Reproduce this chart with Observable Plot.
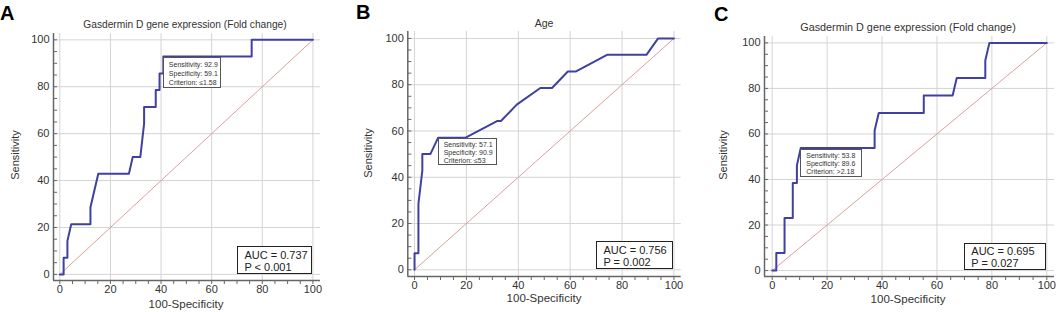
<!DOCTYPE html>
<html><head><meta charset="utf-8">
<script src="https://cdn.jsdelivr.net/npm/d3@7"></script>
<script src="https://cdn.jsdelivr.net/npm/@observablehq/plot@0.6"></script>
<style>
body{margin:0;background:#fff;}
#root{position:relative;width:1059px;height:312px;overflow:hidden;font-family:Arial,"Liberation Sans",sans-serif;color:#333;}
.abs{position:absolute;white-space:nowrap;}
.panel{position:absolute;top:0;}
.crit{position:absolute;background:#fff;border:1px solid #555;box-sizing:border-box;font-size:7px;color:#333;padding:2px 0 0 5px;white-space:nowrap;}
.auc{position:absolute;background:#fff;border:1.6px solid #222;box-sizing:border-box;font-size:11px;color:#222;padding:2px 0 0 6px;white-space:nowrap;}
</style></head><body><div id="root"></div>
<script>
// ---- data ----
const panelLetters = ["A", "B", "C"];
const titles = ["Gasdermin D gene expression (Fold change)", "Age", "Gasdermin D gene expression (Fold change)"];
const xLabel = "100-Specificity";
const yLabel = "Sensitivity";
const majorTicks = [0, 20, 40, 60, 80, 100];
const minorTicks = d3.range(0, 101, 5);
const diagonal = [0, 100];

const fprA  = [0, 1.5, 1.5, 3.0, 3.0, 4.5, 12.1, 12.1, 15.2, 27.3, 28.8, 31.8, 33.3, 33.3, 37.9, 37.9, 39.4, 39.4, 40.9, 40.9, 75.8, 75.8, 100];
const sensA = [0, 0, 7.1, 7.1, 14.3, 21.4, 21.4, 28.6, 42.9, 42.9, 50, 50, 64.3, 71.4, 71.4, 78.6, 78.6, 85.7, 85.7, 92.9, 92.9, 100, 100];

const fprB  = [0, 0, 1.5, 1.5, 3.0, 3.0, 6.1, 9.1, 19.7, 31.8, 33.3, 39.4, 48.5, 53.0, 59.1, 62.1, 74.2, 89.4, 93.9, 100];
const sensB = [0, 7.1, 7.1, 28.6, 42.9, 50, 50, 57.1, 57.1, 64.3, 64.3, 71.4, 78.6, 78.6, 85.7, 85.7, 92.9, 92.9, 100, 100];

const fprC  = [0, 1.5, 1.5, 4.5, 4.5, 7.5, 7.5, 9.0, 9.0, 10.4, 37.3, 37.3, 38.8, 55.2, 55.2, 65.7, 67.2, 77.6, 77.6, 79.1, 100];
const sensC = [0, 0, 7.7, 7.7, 23.1, 23.1, 38.5, 38.5, 46.2, 53.8, 53.8, 61.5, 69.2, 69.2, 76.9, 76.9, 84.6, 84.6, 92.3, 100, 100];

const optSensitivity = [92.9, 57.1, 53.8];
const optSpecificity = [59.1, 90.9, 89.6];
const criteria = ["\u22641.58", "\u226453", ">2.18"];
const aucValues = ["0.737", "0.756", "0.695"];
const pValues = ["P < 0.001", "P = 0.002", "P = 0.027"];

// ---- layout ----
const layout = [
  {left: 0,   width: 345, height: 312, ml: 53,   mr: 25,   mt: 33, mb: 32, xd: [-2.5, 103],  yd: [-2.6, 102.7],
   title: [185, 24, 10.2], ylab: [15, 155], xlab: [186, 304], letter: [0, 2], crit: [58, 31], auc: [75, 28]},
  {left: 350, width: 350, height: 312, ml: 57.3, mr: 19.3, mt: 31, mb: 36, xd: [-2.6, 102.8], yd: [-2.9, 103],
   title: [544, 23, 10.5], ylab: [368, 153], xlab: [544, 298], letter: [356, 1], crit: [59, 27], auc: [77, 28]},
  {left: 700, width: 359, height: 312, ml: 64,   mr: 5,    mt: 36, mb: 36, xd: [-2.8, 102.8], yd: [-2.6, 102.8],
   title: [908, 27, 10.8], ylab: [723, 155], xlab: [908, 299], letter: [714, 3], crit: [62, 28], auc: [82, 27]}
];
const curves = [[fprA, sensA], [fprB, sensB], [fprC, sensC]];

const root = document.getElementById("root");
function addDiv(cls, text, css) {
  const d = document.createElement("div");
  d.className = cls;
  if (Array.isArray(text)) d.innerHTML = text.join("<br>"); else d.textContent = text;
  Object.assign(d.style, css);
  root.appendChild(d);
  return d;
}

layout.forEach((L, i) => {
  const [fx, sy] = curves[i];
  const plot = Plot.plot({
    width: L.width, height: L.height,
    marginLeft: L.ml, marginRight: L.mr, marginTop: L.mt, marginBottom: L.mb,
    style: {fontFamily: "Arial, 'Liberation Sans', sans-serif", fontSize: "11px", background: "transparent", color: "#333"},
    x: {domain: L.xd},
    y: {domain: L.yd},
    marks: [
      Plot.gridX(majorTicks, {stroke: "#d4d4d4", strokeOpacity: 1, strokeWidth: 1}),
      Plot.gridY(majorTicks, {stroke: "#d4d4d4", strokeOpacity: 1, strokeWidth: 1}),
      Plot.ruleX([L.xd[0]], {stroke: "#666", strokeWidth: 1.5}),
      Plot.ruleY([L.yd[0]], {stroke: "#666", strokeWidth: 1.5}),
      Plot.axisX(minorTicks, {tickSize: 4, tickFormat: () => "", stroke: "#666"}),
      Plot.axisX(majorTicks, {tickSize: 0, tickPadding: 5, fill: "#333", fontSize: 11, label: null}),
      Plot.axisY(minorTicks, {tickSize: -4, tickFormat: () => "", stroke: "#666"}),
      Plot.axisY(majorTicks, {tickSize: 0, tickPadding: 4, fill: "#333", fontSize: 11, label: null}),
      Plot.line(d3.zip(diagonal, diagonal), {stroke: "#d8a0a0", strokeWidth: 1}),
      Plot.line(d3.zip(fx, sy), {stroke: "#4040a2", strokeWidth: 2})
    ]
  });
  const wrap = document.createElement("div");
  wrap.className = "panel";
  wrap.style.left = L.left + "px";
  wrap.appendChild(plot);
  root.appendChild(wrap);

  const X = plot.scale("x"), Y = plot.scale("y");

  addDiv("abs", panelLetters[i], {left: L.letter[0] + "px", top: L.letter[1] + "px", fontSize: "20px", fontWeight: "bold", color: "#000"});
  addDiv("abs", titles[i], {left: L.title[0] + "px", top: L.title[1] + "px", fontSize: L.title[2] + "px", color: "#333", transform: "translate(-50%,-50%)"});
  addDiv("abs", yLabel, {left: L.ylab[0] + "px", top: L.ylab[1] + "px", fontSize: "11px", color: "#333", transform: "translate(-50%,-50%) rotate(-90deg)"});
  addDiv("abs", xLabel, {left: L.xlab[0] + "px", top: L.xlab[1] + "px", fontSize: "11.5px", color: "#333", transform: "translate(-50%,-50%)"});

  const px = L.left + X.apply(100 - optSpecificity[i]);
  const py = Y.apply(optSensitivity[i]) + 1;
  addDiv("crit", ["Sensitivity: " + optSensitivity[i], "Specificity: " + optSpecificity[i], "Criterion: " + criteria[i]],
    {left: px + "px", top: py + "px", width: L.crit[0] + "px", height: L.crit[1] + "px", lineHeight: (L.crit[1] - 4) / 3 + "px"});

  const ax = L.left + X.apply(100), ay = Y.apply(0);
  addDiv("auc", ["AUC = " + aucValues[i], pValues[i]],
    {left: (ax - L.auc[0]) + "px", top: (ay - L.auc[1]) + "px", width: L.auc[0] + "px", height: L.auc[1] + "px", lineHeight: (L.auc[1] - 4) / 2 + "px"});
});
</script>
</body></html>
